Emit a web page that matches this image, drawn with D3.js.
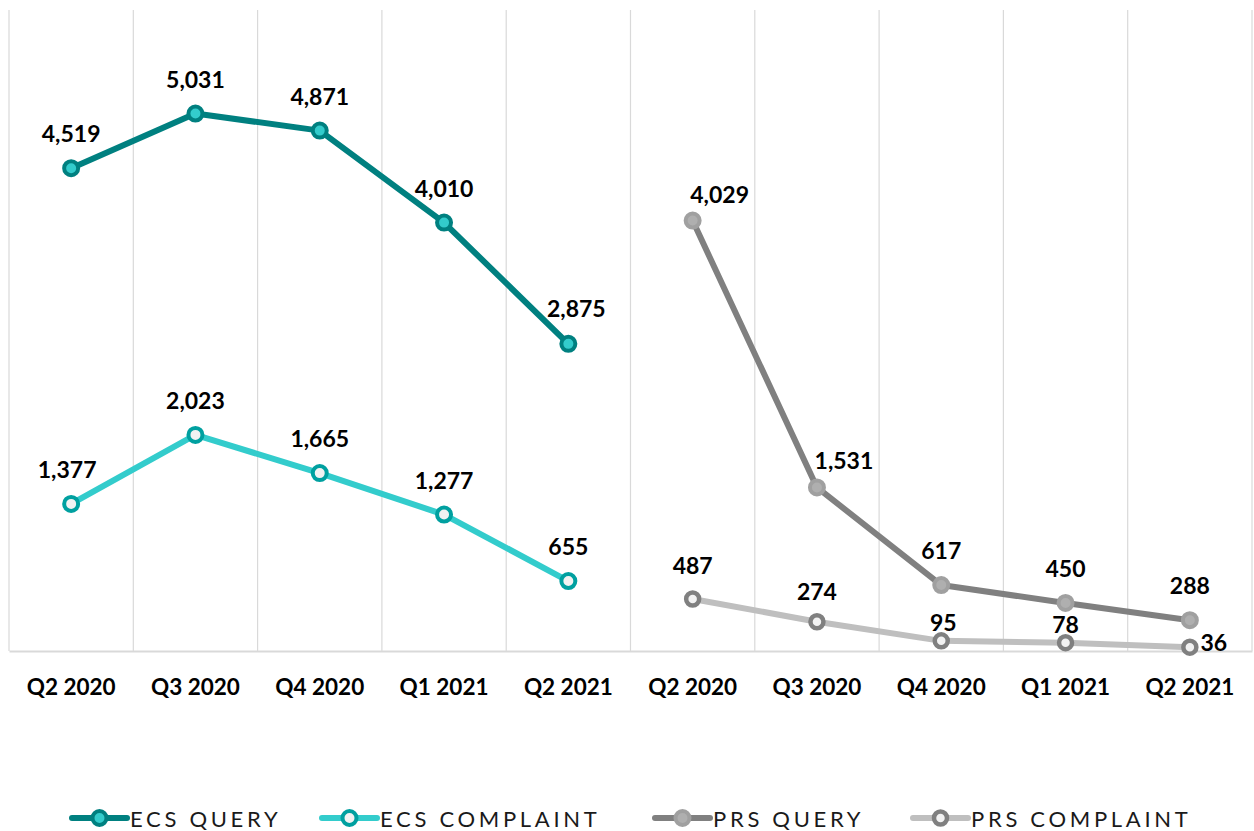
<!DOCTYPE html>
<html>
<head>
<meta charset="utf-8">
<script src="https://cdn.jsdelivr.net/npm/d3@7"></script>
<style>
  html, body { margin: 0; padding: 0; background: #fff; }
  svg { display: block; }
</style>
</head>
<body>
<svg id="chart" width="1254" height="831"></svg>
<script>
// ---- data ----
const categories = ["Q2 2020", "Q3 2020", "Q4 2020", "Q1 2021", "Q2 2021"];
const groups = ["ECS", "PRS"];
const ecsQuery = [4519, 5031, 4871, 4010, 2875];
const ecsComplaint = [1377, 2023, 1665, 1277, 655];
const prsQuery = [4029, 1531, 617, 450, 288];
const prsComplaint = [487, 274, 95, 78, 36];
const seriesNames = ["ECS QUERY", "ECS COMPLAINT", "PRS QUERY", "PRS COMPLAINT"];
const yMax = 6000;

(function () {
// ---- styles ----
const styles = {
  "ECS QUERY":     { line: "#008080", fill: "#33CCCC", stroke: "#008080", r: 7, sw: 4 },
  "ECS COMPLAINT": { line: "#33CCCC", fill: "#F2F2F2", stroke: "#00A0A0", r: 7, sw: 4 },
  "PRS QUERY":     { line: "#808080", fill: "#AFAFAF", stroke: "#A0A0A0", r: 7, sw: 4 },
  "PRS COMPLAINT": { line: "#BFBFBF", fill: "#F2F2F2", stroke: "#808080", r: 6.5, sw: 4.5 }
};
// label offsets (dx, dy) relative to point
const labelOffsets = {
  "ECS QUERY":     [[0,-35],[0,-35],[0,-35],[0,-35],[8,-36]],
  "ECS COMPLAINT": [[-4,-35],[0,-35],[0,-35],[0,-35],[0,-35]],
  "PRS QUERY":     [[27,-27],[27,-27],[0,-35],[0,-35],[0,-35]],
  "PRS COMPLAINT": [[0,-34],[0,-31],[2,-19],[0,-19],[24,-5]]
};

const svg = d3.select("#chart");
const pLeft = 9, pRight = 1252, pTop = 10, pBottom = 651;

const slots = d3.range(groups.length * categories.length);
const x = d3.scaleBand().domain(slots).range([pLeft, pRight]).paddingInner(0).paddingOuter(0);
const y = d3.scaleLinear().domain([0, yMax]).range([pBottom, pTop]);

// gridlines
const bounds = slots.map(s => x(s)).concat([pRight]);
svg.append("g").selectAll("line").data(bounds).join("line")
  .attr("x1", d => d).attr("x2", d => d)
  .attr("y1", pTop).attr("y2", pBottom)
  .attr("stroke", "#d9d9d9").attr("stroke-width", 1.2);

// x axis
const xAxis = d3.axisBottom(x).tickSize(0).tickPadding(0)
  .tickFormat(s => categories[s % categories.length]);
const gx = svg.append("g").attr("transform", `translate(0,${pBottom})`).call(xAxis);
gx.select(".domain").attr("stroke", "#d9d9d9").attr("stroke-width", 2);
gx.selectAll("text")
  .attr("dy", 0).attr("y", 44)
  .style("font-family", "Lato, 'Open Sans', sans-serif")
  .style("font-weight", "bold").style("font-size", "22.5px").attr("fill", "#000");

const seriesData = [
  { name: "ECS QUERY", group: 0, values: ecsQuery },
  { name: "ECS COMPLAINT", group: 0, values: ecsComplaint },
  { name: "PRS QUERY", group: 1, values: prsQuery },
  { name: "PRS COMPLAINT", group: 1, values: prsComplaint }
];
const cx = (s, i) => x(s.group * categories.length + i) + x.bandwidth() / 2;

const line = d3.line();
const fmt = d3.format(",");

seriesData.slice().reverse().forEach(s => {
  const st = styles[s.name];
  const g = svg.append("g");
  g.append("path")
    .attr("d", line(s.values.map((v, i) => [cx(s, i), y(v)])))
    .attr("fill", "none").attr("stroke", st.line).attr("stroke-width", 6)
    .attr("stroke-linejoin", "round").attr("stroke-linecap", "round");
  g.selectAll("circle").data(s.values).join("circle")
    .attr("cx", (v, i) => cx(s, i)).attr("cy", v => y(v)).attr("r", st.r)
    .attr("fill", st.fill).attr("stroke", st.stroke).attr("stroke-width", st.sw);
});
seriesData.forEach(s => {
  svg.append("g").selectAll("text").data(s.values).join("text")
    .attr("x", (v, i) => cx(s, i) + labelOffsets[s.name][i][0])
    .attr("y", (v, i) => y(v) + labelOffsets[s.name][i][1])
    .attr("text-anchor", "middle").attr("dominant-baseline", "central")
    .style("font-family", "Lato, 'Open Sans', sans-serif")
    .style("font-weight", "bold").style("font-size", "23px")
    .attr("fill", "#000")
    .text(v => fmt(v));
});

// legend
const legendX = [72, 322, 655, 913];
const lg = svg.append("g");
seriesNames.forEach((n, k) => {
  const st = styles[n];
  const g = lg.append("g").attr("transform", `translate(${legendX[k]},818)`);
  g.append("line").attr("x1", 0).attr("x2", 55).attr("y1", 0).attr("y2", 0)
    .attr("stroke", st.line).attr("stroke-width", 6).attr("stroke-linecap", "round");
  g.append("circle").attr("cx", 27.5).attr("cy", 0).attr("r", st.r)
    .attr("fill", st.fill).attr("stroke", st.stroke).attr("stroke-width", st.sw);
  g.append("text").attr("x", 58).attr("y", 0).attr("dominant-baseline", "central")
    .style("font-family", "Lato, 'Open Sans', sans-serif")
    .style("font-size", "22px").style("letter-spacing", "3.7px")
    .attr("fill", "#1a1a1a").text(n);
});
})();
</script>
</body>
</html>
